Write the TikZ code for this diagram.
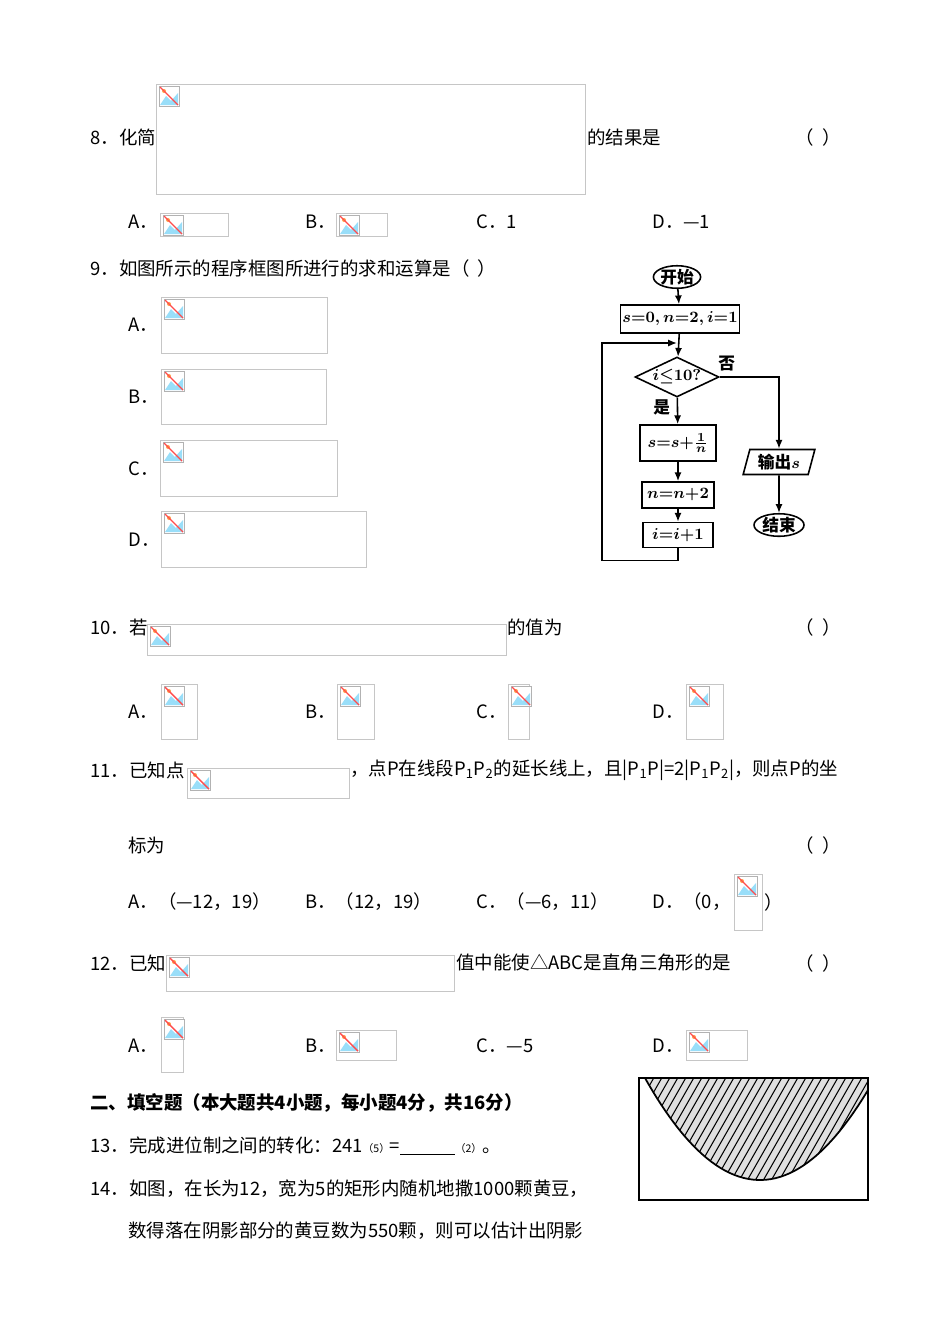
\documentclass[tikz,border=0pt]{standalone}
\usepackage{fontspec}
\setmainfont{Noto Sans CJK SC}
\usetikzlibrary{shapes.geometric,arrows.meta}
\tikzset{
 t/.style={anchor=west,inner sep=0pt,font=\fontsize{10.5}{12}\selectfont},
 fb/.style={draw,line width=0.9pt,inner sep=1pt,font=\fontsize{9.5}{11}\selectfont\bfseries\boldmath},
 fl/.style={line width=0.9pt,-{Latex[length=5pt,width=4pt]}},
 phbox/.style={draw=gray!45,line width=0.5pt}
}
\newcommand{\ph}[4]{%
 \draw[phbox] (#1,#2) rectangle (#3,#4);
 \draw[gray!60,fill=white] (#1+3,#2+2) rectangle (#1+23,#2+22);
 \fill[cyan!40] (#1+4,#2+21) -- (#1+10,#2+12) -- (#1+15,#2+17) -- (#1+22,#2+9) -- (#1+22,#2+21) -- cycle;
 \fill[orange!70] (#1+8,#2+7) circle (2);
 \draw[red!70,line width=0.8pt] (#1+4,#2+3) -- (#1+22,#2+21);}
\begin{document}
\begin{tikzpicture}[x=0.02cm,y=-0.02cm]
\useasboundingbox[fill=white] (0,0) rectangle (950,1342);
% Q8
\ph{156}{84}{585}{194}
\node[t] (q8) at (90,137) {8．化简};
\node[t] (q8b) at (587,137) {的结果是};
\node[t] (q8p) at (795,137) {（\ \ ）};
\node[t] (q8a) at (128,222) {A．}; \ph{160}{213}{228}{236}
\node[t] (q8bb) at (305,222) {B．}; \ph{336}{213}{387}{236}
\node[t] (q8c) at (476,222) {C．1};
\node[t] (q8d) at (652,222) {D．—1};
% Q9
\node[t] (q9) at (90,268) {9．如图所示的程序框图所进行的求和运算是（\ \ ）};
\node[t] (q9a) at (128,325) {A．}; \ph{161}{297}{327}{353}
\node[t] (q9b) at (128,397) {B．}; \ph{161}{369}{326}{424}
\node[t] (q9c) at (128,469) {C．}; \ph{160}{440}{337}{496}
\node[t] (q9d) at (128,540) {D．}; \ph{161}{511}{366}{567}
% flowchart
\node[fb,ellipse,inner sep=0pt,minimum width=0.92cm,minimum height=0.44cm] (st) at (677,277) {开始};
\node[fb,minimum width=2.38cm,minimum height=0.56cm] (init) at (680,319) {$s{=}0,n{=}2,i{=}1$};
\node[fb,diamond,aspect=2.1,inner sep=0pt,minimum width=1.68cm,minimum height=0.8cm] (dec) at (677,377) {$i{\leq}10?$};
\node[fb,minimum width=1.52cm,minimum height=0.72cm] (s1) at (678,443) {$s{=}s{+}\frac{1}{n}$};
\node[fb,minimum width=1.44cm,minimum height=0.52cm] (s2) at (678,495) {$n{=}n{+}2$};
\node[fb,minimum width=1.4cm,minimum height=0.5cm] (s3) at (678,535) {$i{=}i{+}1$};
\node[fb,trapezium,trapezium left angle=75,trapezium right angle=105,inner sep=1pt,minimum height=0.5cm] (out) at (779,462) {输出$s$};
\node[fb,ellipse,inner sep=0pt,minimum width=1.0cm,minimum height=0.44cm] (end) at (779,525) {结束};
\node[t,font=\fontsize{9.5}{11}\selectfont\bfseries] (no) at (718,364) {否};
\node[t,font=\fontsize{9.5}{11}\selectfont\bfseries] (yes) at (653,407) {是};
\coordinate (lp) at (677,343);
\draw[fl] (st) -- (init);
\draw[fl] (init) -- (dec);
\draw[fl] (dec) -- (s1);
\draw[fl] (s1) -- (s2);
\draw[fl] (s2) -- (s3);
\draw[fl] (dec.east) -| (out.north);
\draw[fl] (out) -- (end);
\draw[fl] (s3.south) -- ++(0,12) -| (602,343) -- (lp);
% Q10
\ph{147}{624}{506}{655}
\node[t] (q10) at (90,627) {10．若};
\node[t] (q10b) at (507,627) {的值为};
\node[t] (q10p) at (795,627) {（\ \ ）};
\node[t] (q10a) at (128,712) {A．}; \ph{161}{684}{197}{739}
\node[t] (q10bb) at (305,712) {B．}; \ph{337}{684}{374}{739}
\node[t] (q10c) at (476,712) {C．}; \ph{508}{684}{529}{739}
\node[t] (q10d) at (652,712) {D．}; \ph{686}{684}{723}{739}
% Q11
\ph{187}{768}{349}{798}
\node[t] (q11) at (90,770) {11．已知点};
\node[t] (q11b) at (350,770) {，点P在线段P\textsubscript{1}P\textsubscript{2}的延长线上，且|P\textsubscript{1}P|=2|P\textsubscript{1}P\textsubscript{2}|，则点P的坐};
\node[t] (q11c) at (128,845) {标为};
\node[t] (q11p) at (795,845) {（\ \ ）};
\node[t] (q11a) at (128,902) {A．（—12，19）};
\node[t] (q11bb) at (305,902) {B．（12，19）};
\node[t] (q11cc) at (476,902) {C．（—6，11）};
\node[t] (q11d) at (652,902) {D．（0，};
\ph{734}{874}{762}{930}
\node[t] (q11e) at (764,902) {）};
% Q12
\ph{166}{955}{454}{991}
\node[t] (q12) at (90,963) {12．已知};
\node[t] (q12b) at (456,963) {值中能使△ABC是直角三角形的是};
\node[t] (q12p) at (795,963) {（\ \ ）};
\node[t] (q12a) at (128,1046) {A．}; \ph{161}{1017}{183}{1072}
\node[t] (q12bb) at (305,1046) {B．}; \ph{336}{1030}{396}{1060}
\node[t] (q12c) at (476,1046) {C．—5};
\node[t] (q12d) at (652,1046) {D．}; \ph{686}{1030}{747}{1060}
% section 2
\node[t,font=\fontsize{10.5}{12}\selectfont\bfseries] (sec) at (90,1103) {二、填空题（本大题共4小题，每小题4分，共16分）};
\node[t] (q13) at (90,1146) {13．完成进位制之间的转化：241{\fontsize{6}{7}\selectfont（5）}=\underline{\hspace{1.1cm}}{\fontsize{6}{7}\selectfont（2）}。};
\node[t] (q14) at (90,1189) {14．如图，在长为12，宽为5的矩形内随机地撒1000颗黄豆，};
\node[t] (q14b) at (128,1231) {数得落在阴影部分的黄豆数为550颗，则可以估计出阴影};
% figure
\begin{scope}
\clip (639,1078) rectangle (868,1200);
\clip plot[domain=620:890,samples=60] (\x,{1180-102*((\x-760)/115)^2}) -- (890,1000) -- (620,1000) -- cycle;
\fill[gray!25] (600,1000) rectangle (900,1220);
\foreach \k in {-20,...,40} \draw[line width=0.6pt] (560+\k*8,1200) -- (640+\k*8,1060);
\end{scope}
\begin{scope}
\clip (639,1078) rectangle (868,1200);
\draw[line width=1pt] plot[domain=620:890,samples=60] (\x,{1180-102*((\x-760)/115)^2});
\end{scope}
\draw[line width=1.2pt] (639,1078) rectangle (868,1200);
\end{tikzpicture}
\end{document}
